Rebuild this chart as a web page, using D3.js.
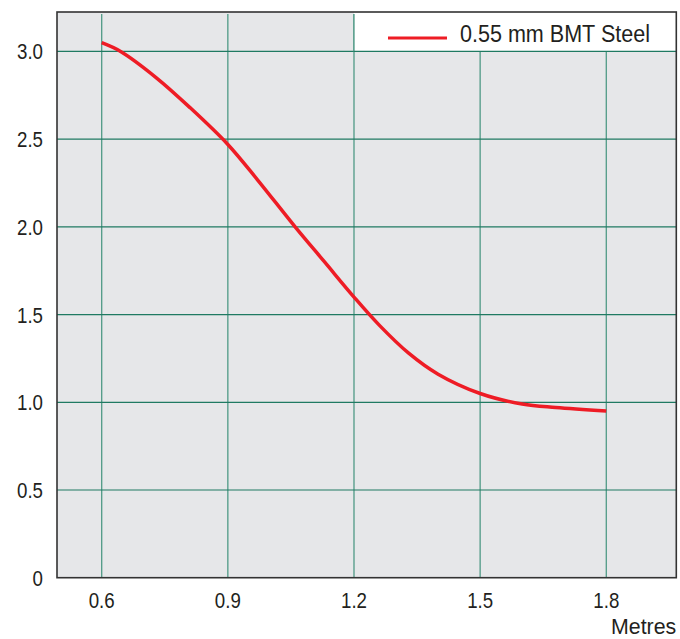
<!DOCTYPE html>
<html>
<head>
<meta charset="utf-8">
<script src="https://cdn.jsdelivr.net/npm/d3@7"></script>
<style>
  body { margin: 0; background: #fff; }
  svg text { font-family: "Liberation Sans", Arial, sans-serif; fill: #231f20; }
</style>
</head>
<body>
<div id="chart"></div>
<script>
// span (metres) and load values
const spans = [0.6, 0.645, 0.73, 0.81, 0.9, 0.97, 1.06, 1.13, 1.2, 1.26, 1.33, 1.4, 1.5, 1.6, 1.68, 1.8];
const loads = [3.05, 3.0, 2.85, 2.68, 2.47, 2.27, 2.0, 1.8, 1.6, 1.44, 1.28, 1.16, 1.05, 0.99, 0.97, 0.95];
const xTicks = [0.6, 0.9, 1.2, 1.5, 1.8];
const yTicks = [0, 0.5, 1.0, 1.5, 2.0, 2.5, 3.0];
const seriesName = "0.55 mm BMT Steel";
const xTitle = "Metres";

const W = 680, H = 639;
const margin = { top: 12, right: 3.7, bottom: 61.3, left: 57 },
  width = W - margin.left - margin.right,
  height = H - margin.top - margin.bottom;

const svg = d3.select("#chart").append("svg")
  .attr("width", W).attr("height", H)
  .append("g").attr("transform", `translate(${margin.left},${margin.top})`);

const x = d3.scaleLinear().domain([0.4937, 1.9665]).range([0, width]);
const y = d3.scaleLinear().domain([0, 3.225]).range([height, 0]);

const gridColor = "#1f7a62";
const vGridColor = "#4f9a86";

// condensed look: squeeze a regular face horizontally
const label = (parent, px, py, txt, size, sx, anchor) => {
  parent.append("g").attr("transform", `translate(${px},${py})`)
    .append("text")
    .attr("transform", `scale(${sx},1)`)
    .attr("text-anchor", anchor)
    .style("font-size", size + "px")
    .text(txt);
};

svg.append("rect").attr("width", width).attr("height", height).attr("fill", "#e6e7e9");

// vertical grid
svg.append("g").selectAll("line").data(xTicks).enter().append("line")
  .attr("x1", (d) => x(d)).attr("x2", (d) => x(d))
  .attr("y1", 2).attr("y2", height)
  .attr("stroke", vGridColor).attr("stroke-width", 1.3);

// horizontal grid
svg.append("g").selectAll("line").data(yTicks.filter((d) => d > 0)).enter().append("line")
  .attr("x1", 0).attr("x2", width)
  .attr("y1", (d) => y(d)).attr("y2", (d) => y(d))
  .attr("stroke", gridColor).attr("stroke-width", 1.2);

// legend box sits between the 1.2 gridline, the right edge and the 3.0 gridline
const legend = svg.append("g");
legend.append("rect")
  .attr("x", x(1.2)).attr("y", 0)
  .attr("width", width - x(1.2)).attr("height", y(3.0))
  .attr("fill", "#fff");
legend.append("line")
  .attr("x1", x(1.2)).attr("x2", x(1.2)).attr("y1", 2).attr("y2", y(3.0))
  .attr("stroke", vGridColor).attr("stroke-width", 1.3);
legend.append("line")
  .attr("x1", x(1.2)).attr("x2", width).attr("y1", y(3.0)).attr("y2", y(3.0))
  .attr("stroke", gridColor).attr("stroke-width", 1.2);
legend.append("line")
  .attr("x1", x(1.2) + 34).attr("x2", x(1.2) + 93)
  .attr("y1", 26).attr("y2", 26)
  .attr("stroke", "#ee1c25").attr("stroke-width", 3.2);
label(legend, x(1.2) + 106, 29.7, seriesName, 24.5, 0.88, "start");

// curve
const line = d3.line().x((d, i) => x(spans[i])).y((d) => y(d)).curve(d3.curveCatmullRom.alpha(0.5));
svg.append("path").datum(loads)
  .attr("d", line)
  .attr("fill", "none")
  .attr("stroke", "#ee1c25")
  .attr("stroke-width", 3.5);

// frame
svg.append("rect").attr("width", width).attr("height", height)
  .attr("fill", "none").attr("stroke", "#333").attr("stroke-width", 1.6);

// x labels
const xl = svg.append("g");
xTicks.forEach((d) => label(xl, x(d), height + 30.5, d3.format(".1f")(d), 22, 0.85, "middle"));

// y labels
const yl = svg.append("g");
yTicks.forEach((d) => label(yl, -14, y(d) + 8, d === 0 ? "0" : d3.format(".1f")(d), 22, 0.85, "end"));

label(svg, width, height + 56.5, xTitle, 22.5, 0.95, "end");
</script>
</body>
</html>
